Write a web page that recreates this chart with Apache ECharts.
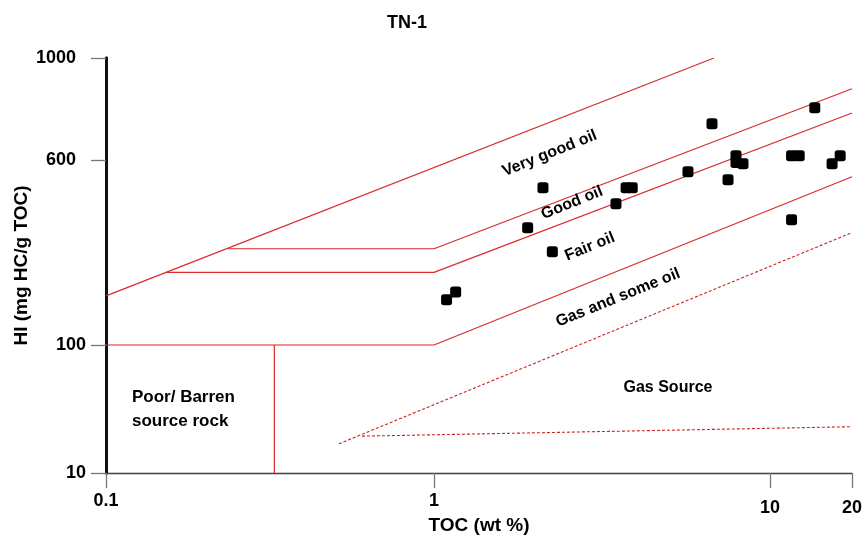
<!DOCTYPE html>
<html>
<head>
<meta charset="utf-8">
<script src="https://cdn.jsdelivr.net/npm/echarts@6/dist/echarts.min.js"></script>
<style>html,body{margin:0;padding:0;background:#fff;overflow:hidden}#c{width:868px;height:537px}</style>
</head>
<body>
<div id="c"></div>
<script>
// ---- data ----
const chartTitle = 'TN-1';
const tocTicks = [0.1, 1, 10, 20];
const hiTicks = [10, 100, 600, 1000];
const sampleToc = [1.09, 1.16, 1.9, 2.11, 2.25, 3.48, 3.73, 3.89, 5.7, 6.72, 7.5, 7.92, 7.92, 8.31, 12.0, 12.8, 12.0, 14.6, 16.9, 18.1];
const sampleHi  = [155, 167, 311, 459, 247, 393, 459, 459, 536, 719, 496, 613, 585, 579, 613, 613, 336, 779, 579, 613];
// boundary lines (TOC, HI vertices)
const lineVeryGoodTopToc = [0.1, 6.81];        const lineVeryGoodTopHi = [161, 1000];
const lineVeryGoodLowToc = [0.235, 1.0, 20];   const lineVeryGoodLowHi = [254, 254, 857];
const lineGoodLowToc = [0.152, 1.0, 20];       const lineGoodLowHi = [202, 202, 759];
const lineFairLowToc = [0.1, 1.0, 20];         const lineFairLowHi = [100, 100, 510];
const linePoorToc = [0.326, 0.326];            const linePoorHi = [10, 100];
const dashGasUpperToc = [0.513, 20];           const dashGasUpperHi = [16.9, 297];
const dashGasLowerToc = [0.603, 20];           const dashGasLowerHi = [19.4, 23.0];
// region labels
const regionNames = ['Very good oil', 'Good oil', 'Fair oil', 'Gas and some oil', 'Gas Source', 'Poor/ Barren\nsource rock'];
const regionToc = [2.21, 2.575, 2.91, 3.53, 4.97, 0.12];
const regionHi = [620, 396, 259, 158, 46.2, 31.5];
const regionRotate = [22, 22, 22, 22, 0, 0];

// ---- axis scale of the reference (piecewise log between labelled ticks) ----
const tocTickPos = [0, 328, 664, 746];
const hiTickPos = [0, 128, 313, 415];
function piece(v, ticks, pos) {
  const lv = Math.log10(v);
  const n = ticks.length;
  for (let i = 0; i < n - 1; i++) {
    const l0 = Math.log10(ticks[i]), l1 = Math.log10(ticks[i + 1]);
    if (lv <= l1 || i === n - 2) return pos[i] + (lv - l0) / (l1 - l0) * (pos[i + 1] - pos[i]);
  }
}
const tx = v => piece(v, tocTicks, tocTickPos);
const ty = v => piece(v, hiTicks, hiTickPos);
const pts = (xs, ys) => xs.map((x, i) => [tx(x), ty(ys[i])]);

const FONT = '"Liberation Sans", Arial, sans-serif';
const red = '#da2a2a';
function lineSeries(xs, ys, dashed) {
  return {
    type: 'line', data: pts(xs, ys), symbol: 'none', silent: true, z: 2,
    lineStyle: { color: dashed ? '#d02020' : red, width: dashed ? 1.1 : 1.2, type: dashed ? [3, 2] : 'solid' }
  };
}

const chart = echarts.init(document.getElementById('c'), null, { renderer: 'canvas' });
chart.setOption({
  animation: false,
  backgroundColor: '#fff',
  title: {
    text: chartTitle, left: 402, top: 9, textAlign: 'center',
    textStyle: { fontFamily: FONT, fontWeight: 'bold', fontSize: 18, color: '#000' }
  },
  grid: { left: 106, right: 16, top: 58, bottom: 64, containLabel: false, outerBoundsMode: 'none' },
  xAxis: [{
    type: 'value', min: 0, max: 746, position: 'bottom',
    name: 'TOC (wt %)', nameLocation: 'middle', nameGap: 43, nameMoveOverlap: false,
    nameTextStyle: { fontFamily: FONT, fontWeight: 'bold', fontSize: 19, color: '#000' },
    axisLine: { show: true, lineStyle: { color: '#333', width: 1.3 } },
    axisTick: { show: true, length: 15, customValues: tocTickPos, lineStyle: { color: '#777', width: 1.3 } },
    axisLabel: {
      customValues: tocTickPos, margin: 19,
      formatter: v => { const i = tocTickPos.indexOf(v); const s = String(tocTicks[i]); return i >= 2 ? '{b|' + s + '}' : '{a|' + s + '}'; },
      rich: {
        a: { fontFamily: FONT, fontWeight: 'bold', fontSize: 18, color: '#000' },
        b: { fontFamily: FONT, fontWeight: 'bold', fontSize: 18, color: '#000', padding: [7, 0, 0, 0] }
      }
    },
    splitLine: { show: false }
  }, {
    type: 'value', min: 0, max: 746, position: 'top',
    axisLine: { show: true, lineStyle: { color: '#444', width: 1.2 } },
    axisTick: { show: false }, axisLabel: { show: false }, splitLine: { show: false }
  }],
  yAxis: [{
    type: 'value', min: 0, max: 415, position: 'left',
    name: 'HI (mg HC/g TOC)', nameLocation: 'middle', nameGap: 75, nameRotate: 90, nameMoveOverlap: false,
    nameTextStyle: { fontFamily: FONT, fontWeight: 'bold', fontSize: 19, color: '#000' },
    axisLine: { show: true, lineStyle: { color: '#111', width: 3 } },
    axisTick: { show: true, length: 15, customValues: hiTickPos, lineStyle: { color: '#777', width: 1.3 } },
    axisLabel: {
      customValues: hiTickPos, margin: 20,
      formatter: v => { const i = hiTickPos.indexOf(v); const s = String(hiTicks[i]); return i >= 2 ? '{b|' + s + '}' : '{a|' + s + '}'; },
      rich: {
        a: { fontFamily: FONT, fontWeight: 'bold', fontSize: 18, color: '#000' },
        b: { fontFamily: FONT, fontWeight: 'bold', fontSize: 18, color: '#000', padding: [0, 10, 0, 0] }
      }
    },
    splitLine: { show: false }
  }, {
    type: 'value', min: 0, max: 415, position: 'right',
    axisLine: { show: true, lineStyle: { color: '#111', width: 3 } },
    axisTick: { show: false }, axisLabel: { show: false }, splitLine: { show: false }
  }],
  series: [
    lineSeries(lineVeryGoodTopToc, lineVeryGoodTopHi),
    lineSeries(lineVeryGoodLowToc, lineVeryGoodLowHi),
    lineSeries(lineGoodLowToc, lineGoodLowHi),
    lineSeries(lineFairLowToc, lineFairLowHi),
    lineSeries(linePoorToc, linePoorHi),
    lineSeries(dashGasUpperToc, dashGasUpperHi, true),
    lineSeries(dashGasLowerToc, dashGasLowerHi, true),
    {
      type: 'scatter', data: pts(sampleToc, sampleHi), symbol: 'roundRect', symbolSize: 11,
      itemStyle: { color: '#000', opacity: 1 }, z: 5
    },
    {
      type: 'scatter', symbolSize: 0, silent: true, z: 4,
      itemStyle: { opacity: 1 },
      data: regionNames.map((n, i) => ({
        name: n, value: [tx(regionToc[i]), ty(regionHi[i])],
        label: { rotate: regionRotate[i], align: i === 5 ? 'left' : 'center', fontSize: i === 5 ? 17 : 16 }
      })),
      label: {
        show: true, position: 'inside', formatter: '{b}',
        fontFamily: FONT, fontWeight: 'bold', fontSize: 16, color: '#000', lineHeight: 24
      }
    }
  ]
});
</script>
</body>
</html>
